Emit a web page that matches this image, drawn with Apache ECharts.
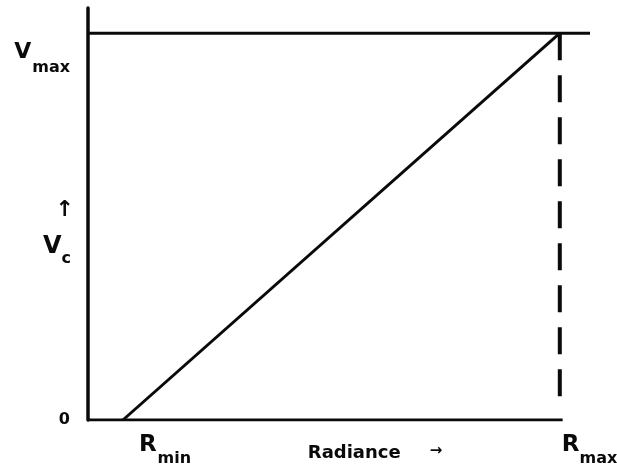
<!DOCTYPE html>
<html>
<head>
<meta charset="utf-8">
<script src="https://cdn.jsdelivr.net/npm/echarts@6/dist/echarts.min.js"></script>
<style>
  html, body { margin: 0; padding: 0; background: #fff; }
  #chart { width: 617px; height: 466px; }
</style>
</head>
<body>
<div id="chart"></div>
<script>
// data (normalised units: radiance 0..100, voltage 0..100)
const rMin = 7.4;
const rMax = 100;
const vMax = 100;
const xAxisEnd = 106.4;   // axis runs a little past R_max
const yAxisEnd = 106.5;   // and a little past V_max

const rampX = [rMin, rMax];
const rampY = [0, vMax];

const xTickValues = [rMin, rMax];
const xTickLabels = ["{ra|R}{sa|min}", "{rb|R}{sb|max}"];
const yTickValues = [0, vMax];
const yTickLabels = ["{z|0}", "{v|V}{s|max}"];

const ink = "#0a0a0a";
const font = "DejaVu Sans";

// rich token helper; sub/superscript placement is done with padding only
function txt(size, pad) {
  return { fontFamily: font, fontWeight: "bold", fontSize: size, color: ink, lineHeight: size, padding: pad || 0 };
}

let myChart = echarts.init(document.getElementById("chart"));

let option = {
  animation: false,
  backgroundColor: "#fff",
  grid: {
    left: 88,
    right: 27,
    top: 8,
    bottom: 46,
    outerBoundsMode: "none",
    containLabel: false
  },
  xAxis: {
    type: "value",
    min: 0,
    max: xAxisEnd,
    axisLine: { show: false },
    axisTick: { show: false },
    splitLine: { show: false },
    axisLabel: {
      customValues: xTickValues,
      formatter: function (v) {
        return xTickLabels[xTickValues.indexOf(v)];
      },
      margin: 15,
      align: "left",
      rich: {
        ra: txt(23, [9.3, 0, 12.7, 16]),
        rb: txt(23, [9.3, 0, 12.7, 2]),
        sa: txt(16, [26.5, 0, 2.5, 1]),
        sb: txt(16, [26.5, 0, 2.5, 0])
      }
    },
    name: "{t|Radiance}{a|→}",
    nameLocation: "middle",
    nameGap: 24,
    nameMoveOverlap: false,
    nameTextStyle: {
      padding: [0, 0, 0, 72],
      rich: {
        t: txt(18),
        a: txt(15, [0, 0, 4, 29])
      }
    }
  },
  yAxis: {
    type: "value",
    min: 0,
    max: yAxisEnd,
    axisLine: { show: true, lineStyle: { color: ink, width: 3.5 } },
    axisTick: { show: false },
    splitLine: { show: false },
    axisLabel: {
      customValues: yTickValues,
      formatter: function (v) {
        return yTickLabels[yTickValues.indexOf(v)];
      },
      margin: 18,
      rich: {
        z: txt(16),
        v: txt(22, [53.2, 1, 14.8, 0]),
        s: txt(16, [72, 0, 2, 0])
      }
    },
    name: "{a|↑}\n{v|V}{c|c}",
    nameLocation: "middle",
    nameRotate: 0,
    nameGap: 14,
    nameMoveOverlap: false,
    nameTextStyle: {
      align: "right",
      padding: [29.5, 0, 0, 0],
      rich: {
        a: txt(22, [0, 0, 12, 0]),
        v: txt(24, [21.9, 0, 8.6, 0]),
        c: txt(16, [38.5, 3, 0, 0])
      }
    }
  },
  series: [
    {
      // bottom axis line, stops at R_max
      type: "line",
      data: [[0, 0], [rMax + 0.6, 0]],
      symbol: "none",
      lineStyle: { color: ink, width: 3 }
    },
    {
      // V_max level line
      type: "line",
      data: [[0, vMax], [xAxisEnd, vMax]],
      symbol: "none",
      lineStyle: { color: ink, width: 3 }
    },
    {
      // transfer ramp
      type: "line",
      data: rampX.map((x, i) => [x, rampY[i]]),
      symbol: "none",
      lineStyle: { color: ink, width: 3 }
    },
    {
      // R_max marker, dashed
      type: "line",
      data: [[rMax, vMax], [rMax, 3.2]],
      symbol: "none",
      lineStyle: { color: ink, width: 4, type: [27, 15] }
    }
  ]
};

myChart.setOption(option);

window.addEventListener("resize", function () {
  myChart.resize();
});
</script>
</body>
</html>
